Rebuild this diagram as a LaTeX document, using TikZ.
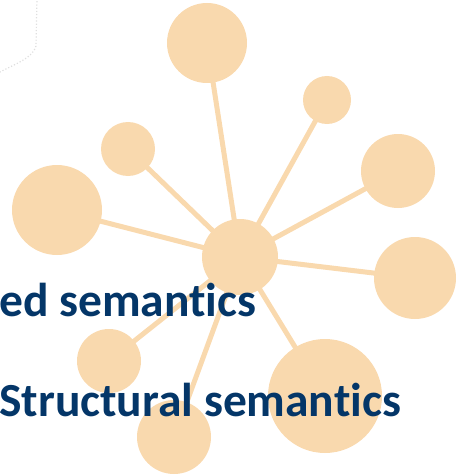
\documentclass[tikz,border=0pt]{standalone}
\usepackage{fontspec}
\setmainfont[Ligatures=NoCommon]{Carlito}
\definecolor{blob}{RGB}{249,217,174}
\definecolor{ink}{RGB}{4,54,104}
\begin{document}
\begin{tikzpicture}[x=1pt,y=-1pt,
  blobc/.style={circle,fill=blob,draw=none,inner sep=0pt,minimum size=#1},
  link/.style={draw=blob,line width=5pt},
  label/.style={anchor=base west,inner sep=0pt,text=ink,font=\fontsize{47.5}{50}\selectfont\bfseries}]
\useasboundingbox (0,0) rectangle (456,476);
\clip (0,0) rectangle (456,476);
\draw[gray!25,line width=1.2pt,dotted] (37,-2) -- (36,46) .. controls (33,58) and (15,64) .. (-2,73);
\node[blobc=76pt] (hub) at (240,257) {};
\node[blobc=80pt] (top) at (207,43) {};
\node[blobc=54pt] (ul) at (128,149) {};
\node[blobc=90pt] (left) at (57,210) {};
\node[blobc=64pt] (ll) at (109,361) {};
\node[blobc=74pt] (bot) at (174,437) {};
\node[blobc=114pt] (lr) at (325,396) {};
\node[blobc=82pt] (right) at (415,278) {};
\node[blobc=74pt] (ru) at (398,171) {};
\node[blobc=48pt] (sur) at (327,100) {};
\foreach \n in {top,ul,left,ll,bot,lr,right,ru,sur}
  \draw[link] (hub.center) -- (\n.center);
\node[label] (t1) at (-1,316.5) {ed semantics};
\node[label] (t2) at (-1,416.5) {Structural semantics};
\end{tikzpicture}
\end{document}
